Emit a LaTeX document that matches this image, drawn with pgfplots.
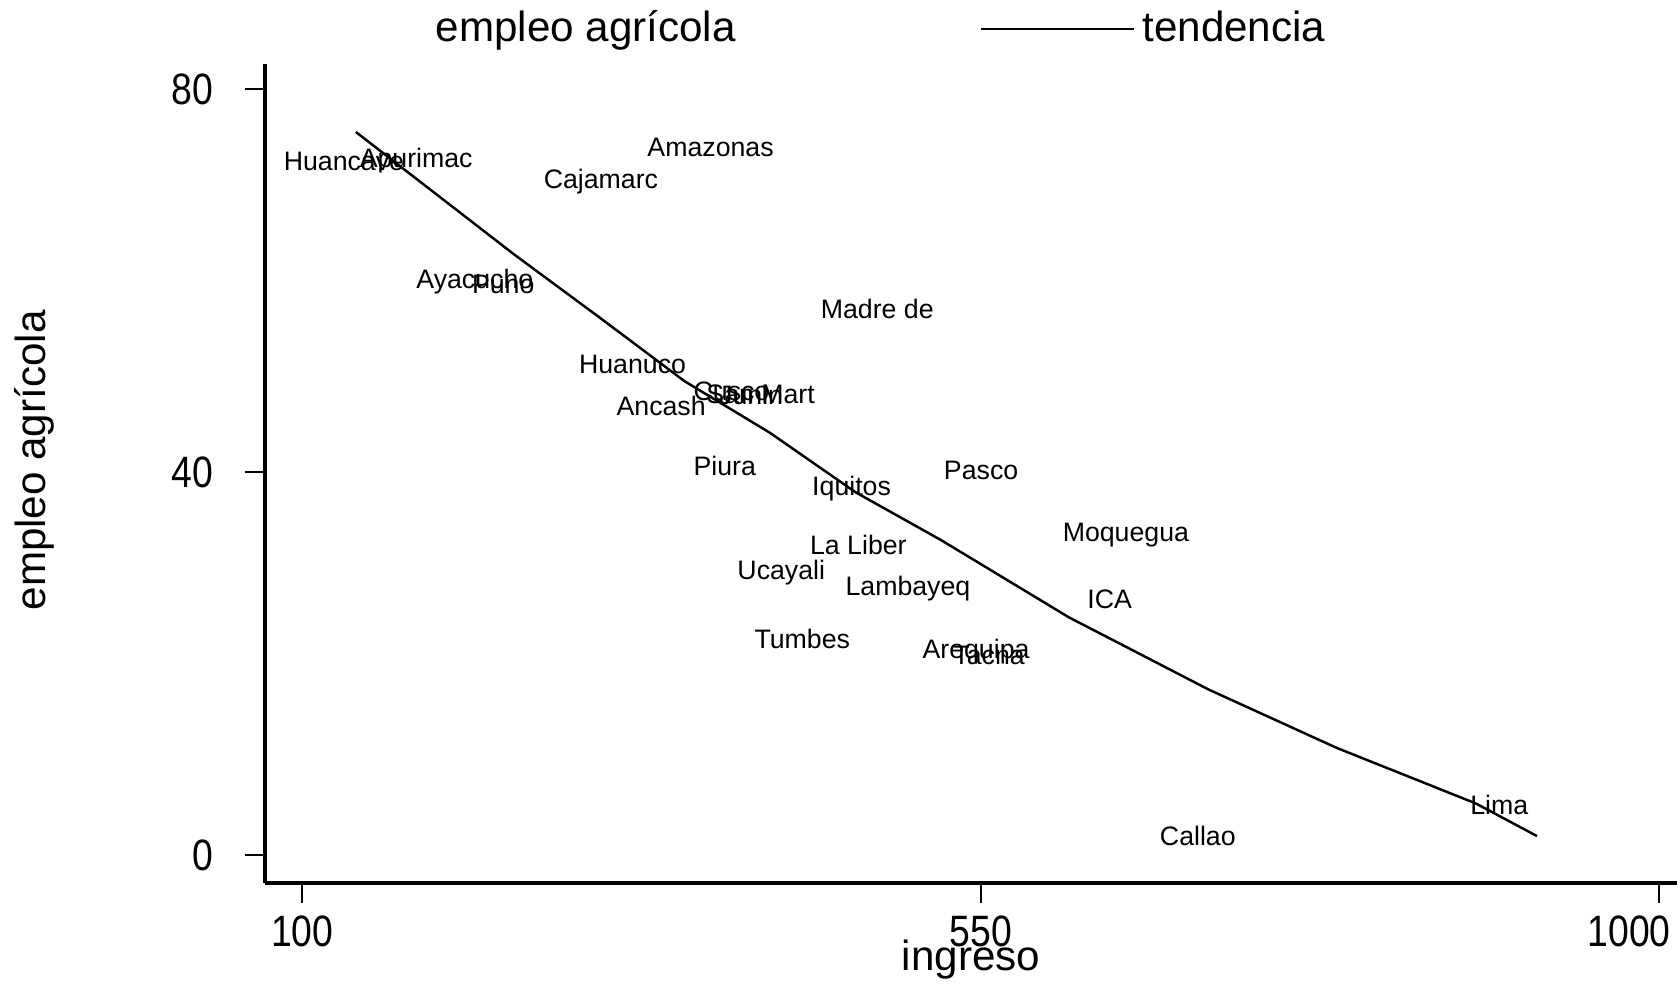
\documentclass[border=0pt]{standalone}
\usepackage{fontspec}
\setmainfont{Liberation Sans}
\usepackage{pgfplots}
\pgfplotsset{compat=1.18}
\begin{document}
\begin{tikzpicture}
\useasboundingbox (-2.65,-1.00) rectangle (14.12,8.83);
\begin{axis}[
  scale only axis, width=14.12cm, height=8.19cm,
  xmin=75.2, xmax=1012, ymin=-2.9, ymax=82.6,
  clip=false,
  axis x line*=bottom, axis y line*=left,
  axis line style={-, line width=0.9pt},
  xtick={100,550,1000}, ytick={0,40,80},
  xticklabels={100,550,{\hspace*{-0.7cm}1000}},
  tick align=outside, major tick length=0.2cm,
  tick style={line width=0.6pt, black},
  /pgf/number format/1000 sep={},
  /pgf/number format/assume math mode=true,
  tick label style={font=\fontsize{12.5}{14}\selectfont, xscale=0.85},
  yticklabel style={xshift=-0.25cm},
  xlabel={ingreso}, ylabel={empleo agrícola},
  label style={font=\fontsize{12}{14}\selectfont},
  xlabel style={at={(axis description cs:0.5,-0.093)}, anchor=center},
  ylabel style={at={(axis description cs:-0.163,0.516)}, anchor=center},
  legend columns=2, legend cell align=left,
  legend style={at={(axis description cs:0.108,1.043)}, anchor=west,
    draw=none, fill=none, font=\fontsize{12}{14}\selectfont,
    /tikz/every even column/.append style={column sep=2.37cm}},
]
% departamentos (etiquetas)
\addplot[only marks, mark=none, nodes near coords, point meta=explicit symbolic,
  nodes near coords style={anchor=west, inner sep=0pt, text=black,
    font=\fontsize{7.6}{9}\selectfont},
  legend image code/.code={}]
coordinates {
(87.2,72.4) [Huancave]
(137.6,72.5) [Apurimac]
(328.5,73.9) [Amazonas]
(259.7,70.3) [Cajamarc]
(175.2,59.9) [Ayacucho]
(212.1,59.6) [Puno]
(443.5,57.0) [Madre de]
(283.1,51.2) [Huanuco]
(308.0,46.9) [Ancash]
(359.1,48.4) [Cusco]
(367.6,48.1) [San Mart]
(376.1,48.0) [Junin]
(359.1,40.6) [Piura]
(437.8,38.3) [Iquitos]
(525.2,40.2) [Pasco]
(604.0,33.4) [Moquegua]
(436.4,32.4) [La Liber]
(388.2,29.5) [Ucayali]
(459.9,27.8) [Lambayeq]
(620.3,26.7) [ICA]
(399.5,22.6) [Tumbes]
(511.0,21.3) [Arequipa]
(531.5,20.9) [Tacna]
(874.4,5.2) [Lima]
(668.5,2.0) [Callao]
};
\addlegendentry{empleo agrícola}
% tendencia
\addplot[black, line width=0.7pt,
  legend image code/.code={\draw[black, line width=0.7pt] (0cm,0cm) -- (1.53cm,0cm);}]
coordinates {
(135.5,75.5) (239.8,62.8) (296.6,56.2) (353.4,49.5) (410.2,44.1)
(466.9,37.9) (523.7,32.9) (608.9,24.8) (637.3,22.5) (701.2,17.3)
(786.3,11.2) (878.6,5.4) (919.1,2.0)
};
\addlegendentry{tendencia}
\end{axis}
\end{tikzpicture}
\end{document}
